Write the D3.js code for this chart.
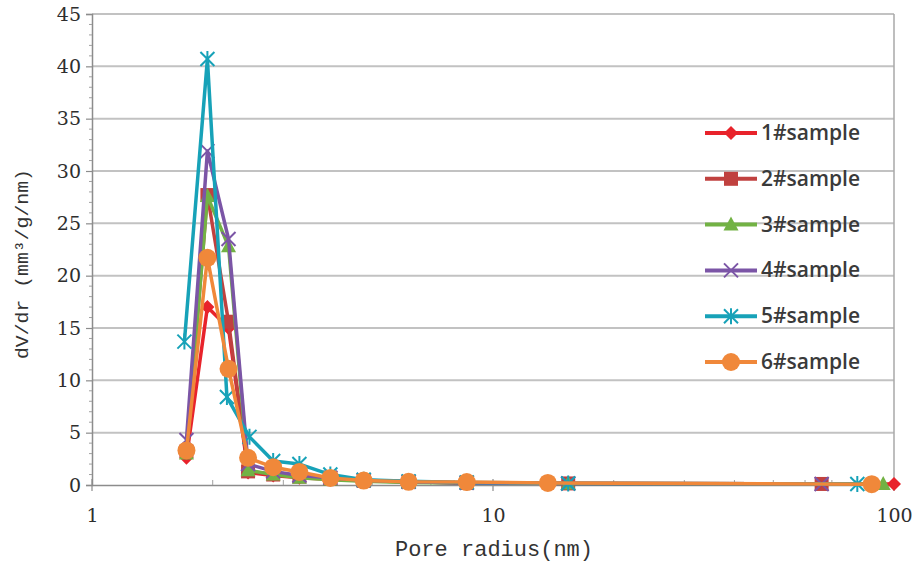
<!DOCTYPE html>
<html>
<head>
<meta charset="utf-8">
<script src="https://cdn.jsdelivr.net/npm/d3@7/dist/d3.min.js"></script>
<style>
  html, body { margin: 0; padding: 0; background: #fff; }
  svg { display: block; }
</style>
</head>
<body>
<svg id="chart" width="915" height="567"></svg>
<script>
// Pore size distribution, dV/dr versus pore radius, six samples
const seriesNames = ["1#sample", "2#sample", "3#sample", "4#sample", "5#sample", "6#sample"];
const seriesColors = ["#e8232b", "#c0413f", "#72b244", "#7b55a6", "#17a2b8", "#f0883a"];
const seriesMarkers = ["diamond", "square", "triangle", "cross", "star", "circle"];

const radius1 = [1.72, 1.94, 2.19, 2.45, 2.83, 3.29, 3.93, 4.76, 6.16, 8.6, 15.4, 100];
const values1 = [2.6, 17.0, 15.0, 1.2, 0.9, 0.7, 0.55, 0.4, 0.3, 0.2, 0.15, 0.1];

const radius2 = [1.72, 1.94, 2.19, 2.45, 2.83, 3.29, 3.93, 4.76, 6.16, 8.6, 15.4, 66];
const values2 = [3.2, 27.7, 15.6, 1.3, 1.0, 0.8, 0.6, 0.4, 0.3, 0.2, 0.15, 0.1];

const radius3 = [1.72, 1.94, 2.19, 2.45, 2.83, 3.29, 3.93, 4.76, 6.16, 8.6, 15.4, 94];
const values3 = [3.0, 27.6, 22.8, 1.4, 1.0, 0.7, 0.5, 0.35, 0.25, 0.2, 0.15, 0.1];

const radius4 = [1.72, 1.94, 2.19, 2.45, 2.83, 3.29, 3.93, 4.76, 6.16, 8.6, 15.4, 66];
const values4 = [4.3, 31.9, 23.5, 2.0, 1.3, 0.9, 0.7, 0.45, 0.3, 0.2, 0.15, 0.1];

const radius5 = [1.70, 1.94, 2.17, 2.47, 2.83, 3.29, 3.93, 4.76, 6.16, 8.6, 15.4, 81];
const values5 = [13.7, 40.7, 8.4, 4.6, 2.3, 2.0, 1.0, 0.5, 0.35, 0.25, 0.15, 0.1];

const radius6 = [1.72, 1.94, 2.19, 2.45, 2.83, 3.29, 3.93, 4.76, 6.16, 8.6, 13.7, 88];
const values6 = [3.3, 21.7, 11.1, 2.6, 1.7, 1.25, 0.67, 0.42, 0.3, 0.28, 0.2, 0.08];

const xTickValues = [1, 10, 100];
const xTickLabels = ["1", "10", "100"];
const yTickValues = [0, 5, 10, 15, 20, 25, 30, 35, 40, 45];
const xAxisTitle = "Pore radius(nm)";
const yAxisTitle = "dV/dr (mm³/g/nm)";

const allRadius = [radius1, radius2, radius3, radius4, radius5, radius6];
const allValues = [values1, values2, values3, values4, values5, values6];

const numFont = "DejaVu Serif";
const titleFont = "Liberation Mono";
const legendFont = "Open Sans";

const svg = d3.select("#chart");
const plot = { left: 92, right: 894, top: 14, bottom: 485 };

const x = d3.scaleLog().domain([1, 100]).range([plot.left, plot.right]);
const y = d3.scaleLinear().domain([0, 45]).range([plot.bottom, plot.top]);

// Horizontal gridlines
svg.append("g")
  .selectAll("line")
  .data(yTickValues.filter(v => v > 0))
  .join("line")
  .attr("x1", plot.left).attr("x2", plot.right)
  .attr("y1", d => y(d)).attr("y2", d => y(d))
  .attr("stroke", "#c2c2c2").attr("stroke-width", 2);

// Right border of the plot area
svg.append("line")
  .attr("x1", plot.right).attr("x2", plot.right)
  .attr("y1", y(45)).attr("y2", y(0))
  .attr("stroke", "#a8a8a8").attr("stroke-width", 1.5);

// Y axis
const yAxis = d3.axisLeft(y).tickValues(yTickValues).tickSize(6).tickPadding(5).tickFormat(d3.format("d"));
const gy = svg.append("g").attr("transform", `translate(${plot.left},0)`).call(yAxis);
gy.select(".domain").attr("stroke", "#8c8c8c").attr("stroke-width", 1.5);
gy.selectAll(".tick line").attr("stroke", "#8c8c8c").attr("stroke-width", 1.2);
gy.selectAll(".tick text")
  .attr("font-family", numFont).attr("font-size", 19).attr("fill", "#2e2e2e");

// Y minor ticks
svg.append("g")
  .selectAll("line")
  .data(d3.range(0, 46, 1).filter(v => v % 5 !== 0))
  .join("line")
  .attr("x1", plot.left - 3).attr("x2", plot.left)
  .attr("y1", d => y(d)).attr("y2", d => y(d))
  .attr("stroke", "#a0a0a0").attr("stroke-width", 1);

// X axis
const xAxis = d3.axisBottom(x).tickValues(xTickValues).tickSize(0).tickPadding(24)
  .tickFormat((d, i) => xTickLabels[i]);
const gx = svg.append("g").attr("transform", `translate(0,${plot.bottom})`).call(xAxis);
gx.select(".domain").attr("stroke", "#8c8c8c").attr("stroke-width", 1.5);
gx.selectAll(".tick text")
  .attr("font-family", numFont).attr("font-size", 19).attr("fill", "#2e2e2e");

// X major and minor ticks
const minorX = [];
[1, 10].forEach(dec => { for (let k = 2; k <= 9; k++) minorX.push(dec * k); });
svg.append("g")
  .selectAll("line")
  .data(minorX)
  .join("line")
  .attr("x1", d => x(d)).attr("x2", d => x(d))
  .attr("y1", plot.bottom - 5).attr("y2", plot.bottom)
  .attr("stroke", "#a0a0a0").attr("stroke-width", 1);
svg.append("g")
  .selectAll("line")
  .data(xTickValues)
  .join("line")
  .attr("x1", d => x(d)).attr("x2", d => x(d))
  .attr("y1", plot.bottom - 6).attr("y2", plot.bottom + 6)
  .attr("stroke", "#8c8c8c").attr("stroke-width", 1.2);

// Axis titles
svg.append("text")
  .attr("x", (plot.left + plot.right) / 2 + 1).attr("y", 556)
  .attr("text-anchor", "middle")
  .attr("font-family", titleFont).attr("font-size", 22).attr("fill", "#333")
  .text(xAxisTitle);

svg.append("text")
  .attr("transform", "translate(28,264) rotate(-90)")
  .attr("text-anchor", "middle")
  .attr("font-family", titleFont).attr("font-size", 18).attr("fill", "#333")
  .attr("textLength", 190).attr("lengthAdjust", "spacingAndGlyphs")
  .text(yAxisTitle);

// Marker drawing
function drawMarker(g, type, color) {
  switch (type) {
    case "diamond":
      g.append("path").attr("d", "M0,-7L7,0L0,7L-7,0Z").attr("fill", color);
      break;
    case "square":
      g.append("rect").attr("x", -7).attr("y", -7).attr("width", 14).attr("height", 14).attr("fill", color);
      break;
    case "triangle":
      g.append("path").attr("d", "M0,-8L7.5,6L-7.5,6Z").attr("fill", color);
      break;
    case "cross":
      g.append("path").attr("d", "M-7,-7L7,7M-7,7L7,-7")
        .attr("stroke", color).attr("stroke-width", 2).attr("fill", "none");
      break;
    case "star":
      g.append("path").attr("d", "M-7,-7L7,7M-7,7L7,-7M0,-8L0,8")
        .attr("stroke", color).attr("stroke-width", 2).attr("fill", "none");
      break;
    case "circle":
      g.append("circle").attr("r", 9).attr("fill", color);
      break;
  }
}

const line = d3.line().x(d => x(d[0])).y(d => y(d[1]));

allValues.forEach((vals, i) => {
  const pts = vals.map((v, j) => [allRadius[i][j], v]);
  const g = svg.append("g");
  g.append("path").datum(pts)
    .attr("d", line)
    .attr("fill", "none")
    .attr("stroke", seriesColors[i])
    .attr("stroke-width", 3.5)
    .attr("stroke-linejoin", "round");
  g.selectAll("g.m").data(pts).join("g").attr("class", "m")
    .attr("transform", d => `translate(${x(d[0])},${y(d[1])})`)
    .each(function () { drawMarker(d3.select(this), seriesMarkers[i], seriesColors[i]); });
});

// Legend
const legend = svg.append("g");
seriesNames.forEach((name, i) => {
  const ly = 133 + i * 45.8;
  const row = legend.append("g").attr("transform", `translate(0,${ly})`);
  row.append("line").attr("x1", 705).attr("x2", 757).attr("y1", 0).attr("y2", 0)
    .attr("stroke", seriesColors[i]).attr("stroke-width", 4);
  const m = row.append("g").attr("transform", "translate(731,0)");
  drawMarker(m, seriesMarkers[i], seriesColors[i]);
  row.append("text").attr("x", 761).attr("y", 7)
    .attr("font-family", legendFont).attr("font-size", 21).attr("font-weight", 600)
    .attr("fill", "#3a3a3a")
    .text(name);
});
</script>
</body>
</html>
